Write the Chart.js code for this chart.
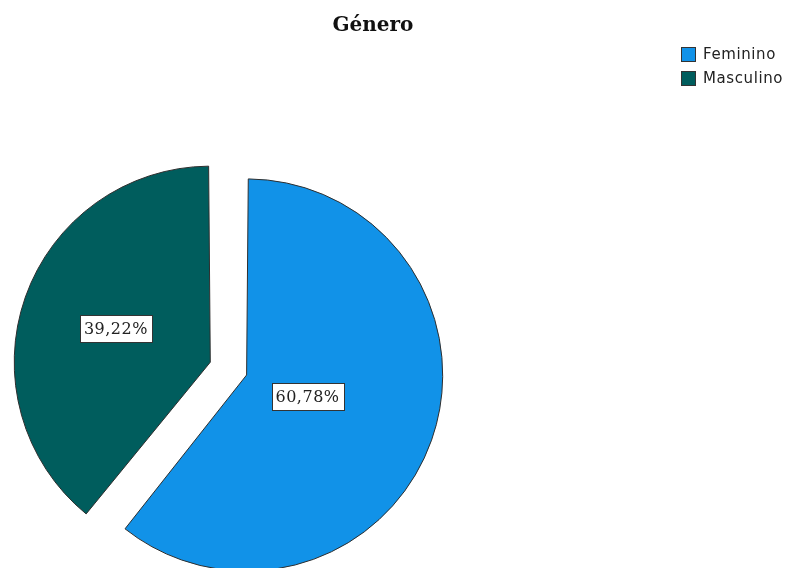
<!DOCTYPE html>
<html>
<head>
<meta charset="utf-8">
<script src="https://cdn.jsdelivr.net/npm/chart.js@4.4.1/dist/chart.umd.min.js"></script>
<style>
  html, body { margin: 0; padding: 0; background: #fff; overflow: hidden; }
  #wrap { position: relative; width: 787px; height: 568px; overflow: hidden; }
  #box { position: absolute; left: 0; top: 0; width: 787px; height: 743px; }
  #title { position: absolute; left: 0; top: 12px; width: 746px; text-align: center;
           font: bold 20px "DejaVu Serif"; color: #111; }
  #legend { position: absolute; left: 681px; top: 47px; font: 15px "DejaVu Sans";
            letter-spacing: 0.6px; color: #222; }
  .item { display: flex; align-items: center; height: 14px; line-height: 14px;
          margin-bottom: 10px; white-space: nowrap; }
  .swatch { width: 13px; height: 13px; border: 1px solid #333; margin-right: 7px; }
</style>
</head>
<body>
<div id="wrap">
  <div id="box"><canvas id="pieChart"></canvas></div>
  <div id="title">Género</div>
  <div id="legend"></div>
</div>
<script>
var categories = ['Feminino', 'Masculino'];
var percentages = [60.78, 39.22];
var sliceColors = ['#1192e8', '#005d5d'];

// legend, built from the same arrays
var legendHtml = '';
categories.forEach(function(name, i) {
    legendHtml += '<div class="item"><span class="swatch" style="background:' + sliceColors[i] + '"></span>' + name + '</div>';
});
document.getElementById('legend').innerHTML = legendHtml;

// percent boxes placed at the centroid of each slice
var pctLabels = {
    id: 'pctLabels',
    afterDatasetsDraw: function(chart) {
        var ctx = chart.ctx;
        var meta = chart.getDatasetMeta(0);
        ctx.save();
        ctx.font = '16px "DejaVu Serif"';
        ctx.letterSpacing = '0.5px';
        ctx.textAlign = 'center';
        ctx.textBaseline = 'middle';
        meta.data.forEach(function(arc, i) {
            var p = arc.getProps(['x', 'y', 'startAngle', 'endAngle', 'outerRadius'], true);
            var shift = (arc.options.offset || 0) / 4;
            var sweep = p.endAngle - p.startAngle;
            var mid = (p.startAngle + p.endAngle) / 2;
            var r = p.outerRadius + shift * (1 - Math.sin(Math.min(Math.PI, sweep)));
            var half = sweep / 2;
            var d = 2 * r * Math.sin(half) / (3 * half);
            var cx = p.x + Math.cos(mid) * (shift + d);
            var cy = p.y + Math.sin(mid) * (shift + d);
            var text = percentages[i].toFixed(2).replace('.', ',') + '%';
            var w = Math.round(ctx.measureText(text).width + 8);
            var h = 27;
            var left = Math.round(cx - w / 2) + 0.5;
            var top = Math.round(cy - h / 2) + 0.5;
            ctx.fillStyle = '#ffffff';
            ctx.fillRect(left, top, w, h);
            ctx.strokeStyle = '#333333';
            ctx.lineWidth = 1;
            ctx.strokeRect(left, top, w, h);
            ctx.fillStyle = '#222222';
            ctx.fillText(text, cx, cy + 1);
        });
        ctx.restore();
    }
};

var pieChart = new Chart(document.getElementById('pieChart'), {
    type: 'pie',
    data: {
        labels: categories,
        datasets: [{
            data: percentages,
            backgroundColor: sliceColors,
            borderColor: '#2e2e2e',
            borderWidth: 1,
            borderJoinStyle: 'miter',
            offset: [42, 112],
            hoverOffset: 0
        }]
    },
    options: {
        responsive: true,
        maintainAspectRatio: false,
        animation: false,
        events: [],
        radius: 185.6,
        layout: { padding: { left: 0, right: 313.6, top: 0, bottom: 0 } },
        plugins: {
            legend: { display: false },
            title: { display: false },
            tooltip: { enabled: false }
        }
    },
    plugins: [pctLabels]
});
</script>
</body>
</html>
